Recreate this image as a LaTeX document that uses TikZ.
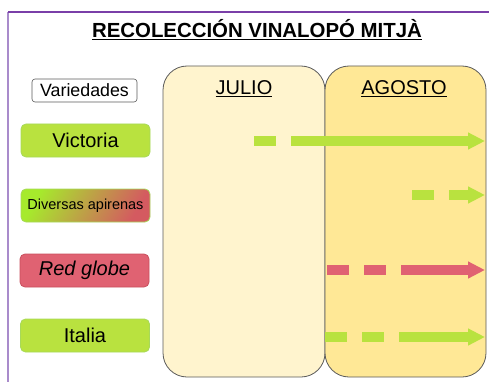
\documentclass[tikz,border=0pt]{standalone}
\usepackage{fontspec}
\setmainfont{Liberation Sans}
\usetikzlibrary{arrows.meta}
\definecolor{frameTop}{HTML}{7A3FA8}
\definecolor{frameLeft}{HTML}{A98BCB}
\definecolor{julioFill}{HTML}{FFF4CE}
\definecolor{agostoFill}{HTML}{FFE896}
\definecolor{colBorder}{HTML}{5A5A5A}
\definecolor{limeFill}{HTML}{B9E23F}
\definecolor{limeBorder}{HTML}{A7D95A}
\definecolor{roseFill}{HTML}{E06272}
\definecolor{roseBorder}{HTML}{C8505E}
\definecolor{gradGreen}{HTML}{A6EA2C}
\definecolor{gradRed}{HTML}{D45A60}
\tikzset{
  fsz/.style={font=\fontsize{#1}{#1}\selectfont},
  column/.style={draw=colBorder, line width=0.8pt, rounded corners=24pt},
  varbox/.style={draw=colBorder, line width=0.6pt, fill=white, rounded corners=3pt,
    minimum width=105pt, minimum height=23pt, inner sep=0pt, fsz=17.8},
  grapebox/.style={line width=0.8pt, rounded corners=5pt,
    minimum width=129pt, minimum height=33pt, inner sep=0pt, fsz=20},
  greenbox/.style={grapebox, fill=limeFill, draw=limeBorder},
  redbox/.style={grapebox, fill=roseFill, draw=roseBorder},
  harvest/.style={line width=10pt,
    -{Triangle[length=17pt, width=16pt]}},
  shortdash/.style={dash pattern=on 22pt off 15pt on 400pt off 0pt},
  doubledash/.style={dash pattern=on 22pt off 15pt on 22pt off 15pt on 400pt off 0pt},
}
\begin{document}
\begin{tikzpicture}[x=1pt, y=-1pt]
\useasboundingbox (0,0) rectangle (489,382);
% frame
\draw[frameLeft, line width=1.3pt] (8,12) -- (8,382);
\draw[frameTop, line width=1.3pt] (8,12) -- (489,12);
% title
\node[font=\fontsize{20.4}{20.4}\selectfont\bfseries] (title) at (257,30) {\underline{RECOLECCIÓN VINALOPÓ MITJÀ}};
% columns
\draw[column, fill=julioFill] (163,377) rectangle (325,66);
\draw[column, fill=agostoFill] (325,377) rectangle (486,66);
\node[fsz=20] (julio) at (244,89) {\underline{JULIO}};
\node[fsz=20] (agosto) at (404,89) {\underline{AGOSTO}};
% varieties
\node[varbox] (var) at (84.5,90.5) {Variedades};
\node[greenbox] (victoria) at (85.5,140.5) {Victoria};
\node[grapebox, draw=limeBorder, top color=gradGreen, bottom color=gradRed, shading angle=60, fsz=14.5] (diversas) at (85.5,205.5) {Diversas apirenas};
\node[redbox] (redglobe) at (84.5,270.5) {\itshape Red globe};
\node[greenbox] (italia) at (85,335.5) {Italia};
% harvest arrows
\coordinate (vS) at (254,141);
\coordinate (vE) at (485,141);
\coordinate (dS) at (412,195);
\coordinate (dE) at (485,195);
\coordinate (rS) at (327,270);
\coordinate (rE) at (485,270);
\coordinate (iS) at (325,337);
\coordinate (iE) at (485,337);
\draw[harvest, limeFill, shortdash] (vS) -- (vE);
\draw[harvest, limeFill, doubledash] (dS) -- (dE);
\draw[harvest, roseFill, doubledash] (rS) -- (rE);
\draw[harvest, limeFill, doubledash] (iS) -- (iE);
\end{tikzpicture}
\end{document}
